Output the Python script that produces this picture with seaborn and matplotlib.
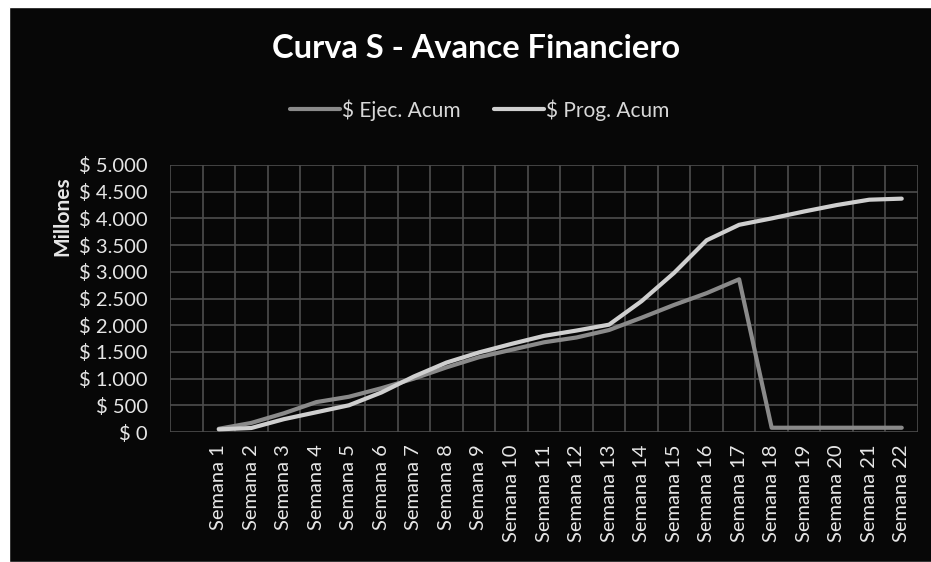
import matplotlib.pyplot as plt
import matplotlib.patches as patches
from matplotlib.ticker import FixedLocator
import pandas as pd
import seaborn as sns

# Data (millones)
semanas = ["Semana %d" % i for i in range(1, 23)]
ejec_acum = [60, 170, 350, 560, 660, 820, 1000, 1210, 1400, 1540, 1680,
             1770, 1910, 2140, 2380, 2600, 2860, 80, 80, 80, 80, 80]
prog_acum = [50, 75, 240, 370, 500, 740, 1040, 1300, 1490, 1650, 1800,
             1900, 2010, 2450, 2980, 3590, 3880, 4000, 4130, 4250, 4350, 4370]
y_ticks = [0, 500, 1000, 1500, 2000, 2500, 3000, 3500, 4000, 4500, 5000]
y_tick_labels = ["$ 0", "$ 500", "$ 1.000", "$ 1.500", "$ 2.000", "$ 2.500",
                 "$ 3.000", "$ 3.500", "$ 4.000", "$ 4.500", "$ 5.000"]
series_names = ["$ Ejec. Acum", "$ Prog. Acum"]

# the source chart has an empty first category slot, so weeks sit at 1..22
pos = list(range(1, 23))
df = pd.DataFrame({"semana": semanas * 2,
                   "pos": pos * 2,
                   "valor": ejec_acum + prog_acum,
                   "serie": [series_names[0]] * 22 + [series_names[1]] * 22})

sns.set_style("dark")
plt.rcParams["font.family"] = ["Lato", "DejaVu Sans"]

fig = plt.figure(figsize=(9.31, 5.62), dpi=100, facecolor="white")
# dark chart area with small white border (scanned look)
fig.patches.append(patches.Rectangle((9 / 931, 0), 1, 1 - 7 / 562,
                                     transform=fig.transFigure,
                                     facecolor="#070707", zorder=-1))

ax = fig.add_axes([170 / 931, 1 - 432 / 562, 748 / 931, 267 / 562])
ax.set_zorder(2)
ax.set_facecolor("#070707")

sns.lineplot(data=df, x="pos", y="valor", hue="serie", ax=ax,
             palette={series_names[0]: "#8a8a8a", series_names[1]: "#cfcfcf"},
             linewidth=3, legend=False)

ax.set_xlim(-0.5, 22.5)
ax.set_ylim(0, 5000)
ax.set_xticks(pos)
ax.set_xticklabels(semanas, rotation=90, color="#e6e6e6", fontsize=14.5)
ax.xaxis.set_minor_locator(FixedLocator([i - 0.5 for i in range(24)]))
ax.set_yticks(y_ticks)
ax.set_yticklabels(y_tick_labels, color="#e6e6e6", fontsize=14.5)
ax.tick_params(axis="y", which="both", length=0, pad=16)
ax.tick_params(axis="x", which="both", length=0, pad=9)
ax.grid(False)
ax.grid(True, axis="y", which="major", color="#4d4d4d", linewidth=1.2)
ax.grid(True, axis="x", which="minor", color="#4d4d4d", linewidth=1.2)
ax.set_axisbelow(True)
for s in ax.spines.values():
    s.set_visible(False)
ax.set_xlabel("")
ax.set_ylabel("")

fig.text(476 / 931, 1 - 49 / 562, "Curva S - Avance Financiero", color="white",
         fontsize=23.5, fontweight="bold", ha="center", va="center")
fig.text(62 / 931, 1 - 216 / 562, "Millones", color="#e6e6e6", fontsize=15,
         fontweight="bold", rotation=90, ha="center", va="center")

handles = [plt.Line2D([], [], color="#8a8a8a", linewidth=3),
           plt.Line2D([], [], color="#cfcfcf", linewidth=3)]
fig.legend(handles, series_names, loc="center", bbox_to_anchor=(480 / 931, 1 - 110 / 562),
           ncol=2, frameon=False, fontsize=15, labelcolor="#d8d8d8",
           handlelength=2.4, handletextpad=0.1, columnspacing=1.6)

fig.savefig("out.png", dpi=100)
